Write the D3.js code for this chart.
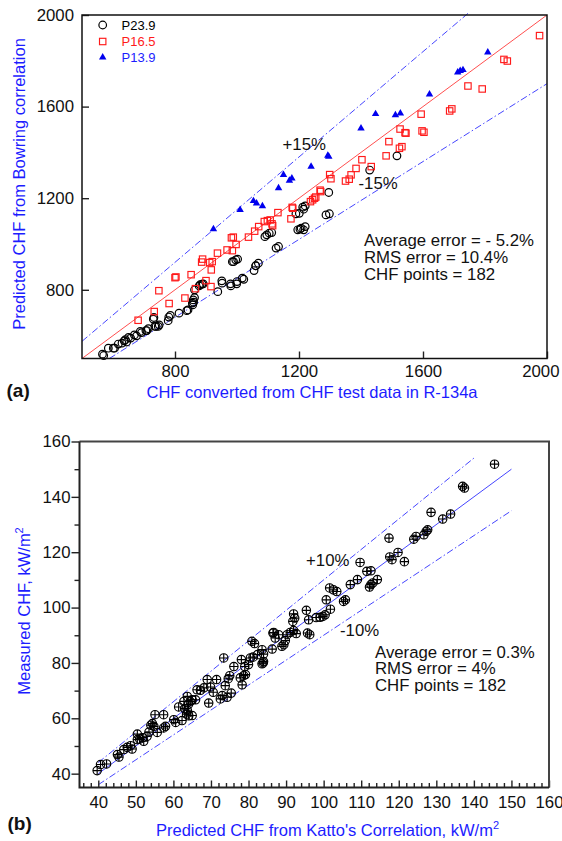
<!DOCTYPE html>
<html>
<head>
<meta charset="utf-8">
<script src="https://cdn.jsdelivr.net/npm/d3@7"></script>
<style>
  html, body { margin: 0; padding: 0; background: #fff; }
  svg { display: block; font-family: "Liberation Sans", Arial, sans-serif; }
</style>
</head>
<body>
<svg id="chart" width="562" height="841"></svg>
<script>
/* ---------- panel (a) data ---------- */
const seriesNames = ["P23.9", "P16.5", "P13.9"];
const p239 = [
  [566,519],[570,513],[585,545],[601,545],[605,545],[617,563],[629,567],[636,577],[640,582],[644,572],
  [650,592],[657,589],[669,603],[676,599],[688,618],[692,613],[706,622],[709,622],[714,630],[730,672],
  [732,679],[735,640],[739,640],[746,640],[749,647],[778,665],[780,681],[785,688],[813,698],[838,709],
  [842,712],[856,742],[857,734],[859,756],[860,746],[863,766],[863,800],[878,817],[881,822],[887,825],
  [891,826],[938,792],[951,839],[952,829],[979,826],[980,817],[999,826],[1000,836],[1017,851],[1022,846],
  [985,923],[989,923],[996,931],[1002,934],[1055,884],[1060,905],[1061,905],[1069,916],[1090,1032],[1096,1040],
  [1104,1047],[1112,1050],[1126,982],[1134,989],[1190,1132],[1196,1062],[1201,1134],[1203,1065],[1207,1069],[1212,1161],
  [1215,1152],[1215,1062],[1220,1076],[1220,1166],[1287,1127],[1298,1132],[1296,1225],[1428,1323],[1516,1385]
];
const p165 = [
  [681,667],[733,705],[748,796],[781,740],[800,853],[803,856],[832,764],[852,866],[866,805],[886,921],
  [889,934],[900,840],[912,919],[920,923],[917,887],[916,814],[937,960],[968,974],[985,971],[982,1027],
  [988,1030],[997,998],[1037,1030],[1057,1056],[1070,1076],[1088,1098],[1098,1102],[1107,1105],[1113,1088],[1115,1080],
  [1132,1137],[1174,1110],[1178,1160],[1180,1156],[1237,1185],[1244,1193],[1250,1200],[1254,1205],[1268,1235],[1270,1229],
  [1299,1303],[1303,1285],[1350,1275],[1362,1283],[1368,1302],[1384,1330],[1403,1368],[1433,1338],[1481,1385],[1490,1447],
  [1524,1418],[1532,1425],[1526,1502],[1542,1486],[1545,1484],[1594,1567],[1597,1494],[1603,1488],[1686,1581],[1693,1590],
  [1745,1690],[1791,1677],[1861,1806],[1872,1799],[1976,1910]
];
const p139 = [
  [924,1065],[1010,1149],[1053,1188],[1063,1178],[1082,1166],[1134,1244],[1169,1277],[1177,1287],[1150,1302],[1239,1338],
  [1293,1386],[1296,1382],[1400,1505],[1447,1568],[1511,1563],[1527,1571],[1621,1654],[1712,1750],[1720,1756],[1729,1760],
  [1809,1837]
];
const ticksA = [800, 1200, 1600, 2000];
// reference lines y = k*x, drawn between x0 and x1
const linesA = [
  { k: 1, x0: 500, x1: 2000, kind: "fit" },
  { k: 1.15, x0: 500, x1: 1750, kind: "band" },
  { k: 0.85, x0: 588, x1: 2000, kind: "band" }
];
const statsA = ["Average error = - 5.2%", "RMS error = 10.4%", "CHF points = 182"];

/* ---------- panel (b) data ---------- */
const kattoPts = [
  [39.7,41.1],[40.6,43.3],[42.2,43.5],[45.1,46.9],[45.5,46],[46.8,48.7],[47.7,49.5],[48.6,50.1],[49,48.9],[50.4,54.3],
  [50.4,52.3],[51,52.5],[51.8,53],[52.1,51.7],[53,53.5],[53.5,55],[54,57.5],[54.4,58.1],[54.8,57.1],[55.1,61.3],
  [55.7,54.9],[57.4,61.3],[57.9,57.1],[57.4,56.5],[60.1,59.5],[60.6,58.5],[62.3,59.2],[61.4,64.1],[62.8,66.1],[63.7,67.9],
  [64.1,60.9],[63.7,62.9],[63.5,61.5],[64,65],[64.5,66],[65,61],[63,63.5],
  [65,66.7],[65.9,66.7],[66.3,70.3],[67.2,70.1],[68.1,71],[69,74],[69.9,71.3],[69.4,65.5],[70.6,69.4],[71.5,74],
  [73,68.2],[73.4,81.8],[73.8,71.8],[74.6,74.3],[75.4,69.1],[76.1,78.7],[78.3,72.1],[78.1,81.2],[79,78.7],[78.7,75.4],
  [77.8,74.6],[80.9,87.8],[81.6,87],[80.5,81.8],[81.2,82.1],[82.4,83],[83.6,79.7],[83.6,84.8],[84,83.2],[84,80.5],
  [86.5,90.8],[87.1,89],[88,90.2],[88.9,86],[89.4,86.6],[89.8,88.1],[90.3,90.2],[91.1,91],[92,91.7],[91.8,95],
  [92,97.7],[92.3,96.2],[92.7,90.6],[95.4,99],[96,95.6],[95.7,90.8],[96.3,90.2],[98,96.4],[99.1,96.5],[99.8,96.8],
  [72.5,67],[74.3,67.6],[75,75.4],[79.2,75.8],[80,79.4],[83.9,80],[86.3,85],[86.7,91],
  [100.4,97.4],[100.7,102.8],[101.6,107.1],[101.8,99.4],[102.6,106.4],[103.5,105.8],[105.3,102.2],[105.8,102.8],[107.1,108.3],[109,110.1],
  [109.7,116.3],[111.5,113.1],[112.6,113.3],[112.6,108.3],[112.2,107.4],[113.1,108.9],[114.3,110.1],[117.4,125.1],[117.6,118.3],[118.2,117.3],
  [119.8,119.9],[121.5,116.6],[124,124.7],[124.6,125.7],[126.7,126.3],[127.3,127.5],[127.7,128.1],[128.6,134.4],[131.7,132],[133.8,133.8],
  [137,143.8],[137.5,143.2],[145.5,151.8]
];
const xTicksB = [40, 50, 60, 70, 80, 90, 100, 110, 120, 130, 140, 150, 160];
const yTicksB = [40, 60, 80, 100, 120, 140, 160];
const linesB = [
  { k: 1, x0: 40, x1: 150, kind: "fit" },
  { k: 1.1, x0: 40, x1: 140, kind: "band" },
  { k: 0.9, x0: 40, x1: 150, kind: "band" }
];
const statsB = ["Average error = 0.3%", "RMS error = 4%", "CHF points = 182"];

/* ---------- styles ---------- */
const BLUE = "#1c1cff";
const RED = "#ff1a1a";
const LINE_BLUE = "#3030ff";
const DASHDOT = "7,2.5,1.5,2.5";
const FS = 16.8;
const plain = d3.format("d");

const svg = d3.select("#chart");

function styleAxis(ax) {
  ax.attr("font-family", null).attr("font-size", null);
  ax.select(".domain").remove();
  ax.selectAll("line").attr("stroke", "#222").attr("stroke-width", 1.4);
  ax.selectAll("text").attr("font-size", FS).attr("fill", "#111");
}

/* ====================== panel (a) ====================== */
const xA = d3.scaleLinear().domain([500, 2000]).range([82, 547]);
const yA = d3.scaleLinear().domain([500, 2000]).range([358.5, 15]);
const gA = svg.append("g");

// reference lines (the +15% band runs a little past the top, as in the original)
gA.selectAll("line.ref")
  .data(linesA)
  .join("line")
  .attr("class", "ref")
  .attr("x1", (d) => xA(d.x0))
  .attr("y1", (d) => yA(d.k * d.x0))
  .attr("x2", (d) => xA(d.x1))
  .attr("y2", (d) => yA(d.k * d.x1))
  .attr("stroke", (d) => (d.kind === "fit" ? "#ff3b3b" : LINE_BLUE))
  .attr("stroke-width", 0.9)
  .attr("stroke-dasharray", (d) => (d.kind === "fit" ? null : DASHDOT));

// markers
gA.selectAll("circle.p239")
  .data(p239)
  .join("circle")
  .attr("class", "p239")
  .attr("cx", (d) => xA(d[0]))
  .attr("cy", (d) => yA(d[1]))
  .attr("r", 3.8)
  .attr("fill", "none")
  .attr("stroke", "#000")
  .attr("stroke-width", 1.2);

const sq = 6.4;
gA.selectAll("rect.p165")
  .data(p165)
  .join("rect")
  .attr("class", "p165")
  .attr("x", (d) => xA(d[0]) - sq / 2)
  .attr("y", (d) => yA(d[1]) - sq / 2)
  .attr("width", sq)
  .attr("height", sq)
  .attr("fill", "none")
  .attr("stroke", RED)
  .attr("stroke-width", 1.15);

const tri = d3.symbol(d3.symbolTriangle, 24);
gA.selectAll("path.p139")
  .data(p139)
  .join("path")
  .attr("class", "p139")
  .attr("transform", (d) => `translate(${xA(d[0])},${yA(d[1])})`)
  .attr("d", tri)
  .attr("fill", "#0000ee");

// axes (ticks inward)
const axA_left = gA.append("g")
  .attr("transform", "translate(82,0)")
  .call(d3.axisLeft(yA).tickValues(ticksA).tickFormat(plain).tickSize(-7).tickSizeOuter(0).tickPadding(8));
const axA_bot = gA.append("g")
  .attr("transform", "translate(0,358.5)")
  .call(d3.axisBottom(xA).tickValues(ticksA).tickFormat(plain).tickSize(-7).tickSizeOuter(0).tickPadding(7));
styleAxis(axA_left);
styleAxis(axA_bot);
// last label pulled in from the page edge
axA_bot.selectAll("text").filter((d) => d === 2000).attr("text-anchor", "end").attr("x", 12);

gA.append("rect")
  .attr("x", 82).attr("y", 15)
  .attr("width", 547 - 82).attr("height", 358.5 - 15)
  .attr("fill", "none").attr("stroke", "#111").attr("stroke-width", 1.5);

// legend
const legA = gA.append("g");
const legColors = ["#000", RED, BLUE];
seriesNames.forEach((name, i) => {
  const ly = [25, 41.5, 57.3][i];
  if (i === 0) legA.append("circle").attr("cx", 102.7).attr("cy", ly).attr("r", 3.8)
    .attr("fill", "none").attr("stroke", "#000").attr("stroke-width", 1.2);
  if (i === 1) legA.append("rect").attr("x", 102.7 - sq / 2).attr("y", ly - sq / 2)
    .attr("width", sq).attr("height", sq).attr("fill", "none").attr("stroke", RED).attr("stroke-width", 1.15);
  if (i === 2) legA.append("path").attr("transform", `translate(102.7,${ly})`).attr("d", tri).attr("fill", "#0000ee");
  legA.append("text").attr("x", 121.5).attr("y", ly + 4.7)
    .attr("font-size", 13).attr("fill", legColors[i]).text(name);
});

// annotations
gA.append("text").attr("x", 282.5).attr("y", 149.5).attr("font-size", FS).attr("fill", "#111").text("+15%");
gA.append("text").attr("x", 358.5).attr("y", 189).attr("font-size", FS).attr("fill", "#111").text("-15%");
gA.selectAll("text.statA")
  .data(statsA)
  .join("text")
  .attr("class", "statA")
  .attr("x", 364)
  .attr("y", (d, i) => 245.5 + i * 17)
  .attr("font-size", FS)
  .attr("fill", "#111")
  .text((d) => d);

// titles
gA.append("text")
  .attr("transform", "translate(24.5,184) rotate(-90)")
  .attr("text-anchor", "middle")
  .attr("font-size", 16.5)
  .attr("fill", BLUE)
  .text("Predicted CHF from Bowring correlation");
gA.append("text")
  .attr("x", 312).attr("y", 398)
  .attr("text-anchor", "middle")
  .attr("font-size", 16.5)
  .attr("fill", BLUE)
  .text("CHF converted from CHF test data in R-134a");
gA.append("text")
  .attr("x", 6.5).attr("y", 397)
  .attr("font-size", 19).attr("font-weight", "bold").attr("fill", "#111")
  .text("(a)");

/* ====================== panel (b) ====================== */
const xB = d3.scaleLinear().domain([35, 160]).range([79.5, 549]);
const yB = d3.scaleLinear().domain([35, 160]).range([787.5, 441.5]);
const gB = svg.append("g");

gB.selectAll("line.ref")
  .data(linesB)
  .join("line")
  .attr("class", "ref")
  .attr("x1", (d) => xB(d.x0))
  .attr("y1", (d) => yB(d.k * d.x0))
  .attr("x2", (d) => xB(d.x1))
  .attr("y2", (d) => yB(d.k * d.x1))
  .attr("stroke", LINE_BLUE)
  .attr("stroke-width", 0.9)
  .attr("stroke-dasharray", (d) => (d.kind === "fit" ? null : DASHDOT));

// circle-plus markers
const rB = 4.2;
const mk = gB.selectAll("g.katto")
  .data(kattoPts)
  .join("g")
  .attr("class", "katto")
  .attr("transform", (d) => `translate(${xB(d[0])},${yB(d[1])})`)
  .attr("stroke", "#000")
  .attr("stroke-width", 1.15)
  .attr("fill", "none");
mk.append("circle").attr("r", rB);
mk.append("path").attr("d", `M${-rB},0H${rB}M0,${-rB}V${rB}`);

// axes
const axB_left = gB.append("g")
  .attr("transform", "translate(79.5,0)")
  .call(d3.axisLeft(yB).tickValues(yTicksB).tickFormat(plain).tickSize(8).tickSizeOuter(0).tickPadding(1));
const axB_leftMinor = gB.append("g")
  .attr("transform", "translate(79.5,0)")
  .call(d3.axisLeft(yB).tickValues(d3.range(50, 160, 20)).tickSize(5).tickSizeOuter(0).tickFormat(""));
const axB_bot = gB.append("g")
  .attr("transform", "translate(0,787.5)")
  .call(d3.axisBottom(xB).tickValues(xTicksB).tickFormat(plain).tickSize(-7).tickSizeOuter(0).tickPadding(8.5));
const axB_botMinor = gB.append("g")
  .attr("transform", "translate(0,787.5)")
  .call(d3.axisBottom(xB).tickValues(d3.range(36, 160, 2).filter((v) => v % 10 !== 0))
    .tickSize(-4.5).tickSizeOuter(0).tickFormat(""));
[axB_left, axB_leftMinor, axB_bot, axB_botMinor].forEach(styleAxis);

gB.append("path")
  .attr("d", "M79.5,441.5H549V787.5")
  .attr("fill", "none").attr("stroke", "#444").attr("stroke-width", 2);
gB.append("path")
  .attr("d", "M79.5,441.5V787.5H549")
  .attr("fill", "none").attr("stroke", "#222").attr("stroke-width", 2);

// annotations
gB.append("text").attr("x", 306).attr("y", 566).attr("font-size", FS).attr("fill", "#111").text("+10%");
gB.append("text").attr("x", 340).attr("y", 636).attr("font-size", FS).attr("fill", "#111").text("-10%");
gB.selectAll("text.statB")
  .data(statsB)
  .join("text")
  .attr("class", "statB")
  .attr("x", 375)
  .attr("y", (d, i) => 657.5 + i * 16.8)
  .attr("font-size", FS)
  .attr("fill", "#111")
  .text((d) => d);

// titles with superscript
const yTitleB = gB.append("text")
  .attr("transform", "translate(30,611) rotate(-90)")
  .attr("text-anchor", "middle")
  .attr("font-size", 16.5)
  .attr("fill", BLUE);
yTitleB.append("tspan").text("Measured CHF, kW/m");
yTitleB.append("tspan").attr("dy", -7).attr("font-size", 11).text("2");

const xTitleB = gB.append("text")
  .attr("x", 327.5).attr("y", 836)
  .attr("text-anchor", "middle")
  .attr("font-size", 16.5)
  .attr("fill", BLUE);
xTitleB.append("tspan").text("Predicted CHF from Katto's Correlation, kW/m");
xTitleB.append("tspan").attr("dy", -7).attr("font-size", 11).text("2");

gB.append("text")
  .attr("x", 7.5).attr("y", 830)
  .attr("font-size", 19).attr("font-weight", "bold").attr("fill", "#111")
  .text("(b)");
</script>
</body>
</html>
